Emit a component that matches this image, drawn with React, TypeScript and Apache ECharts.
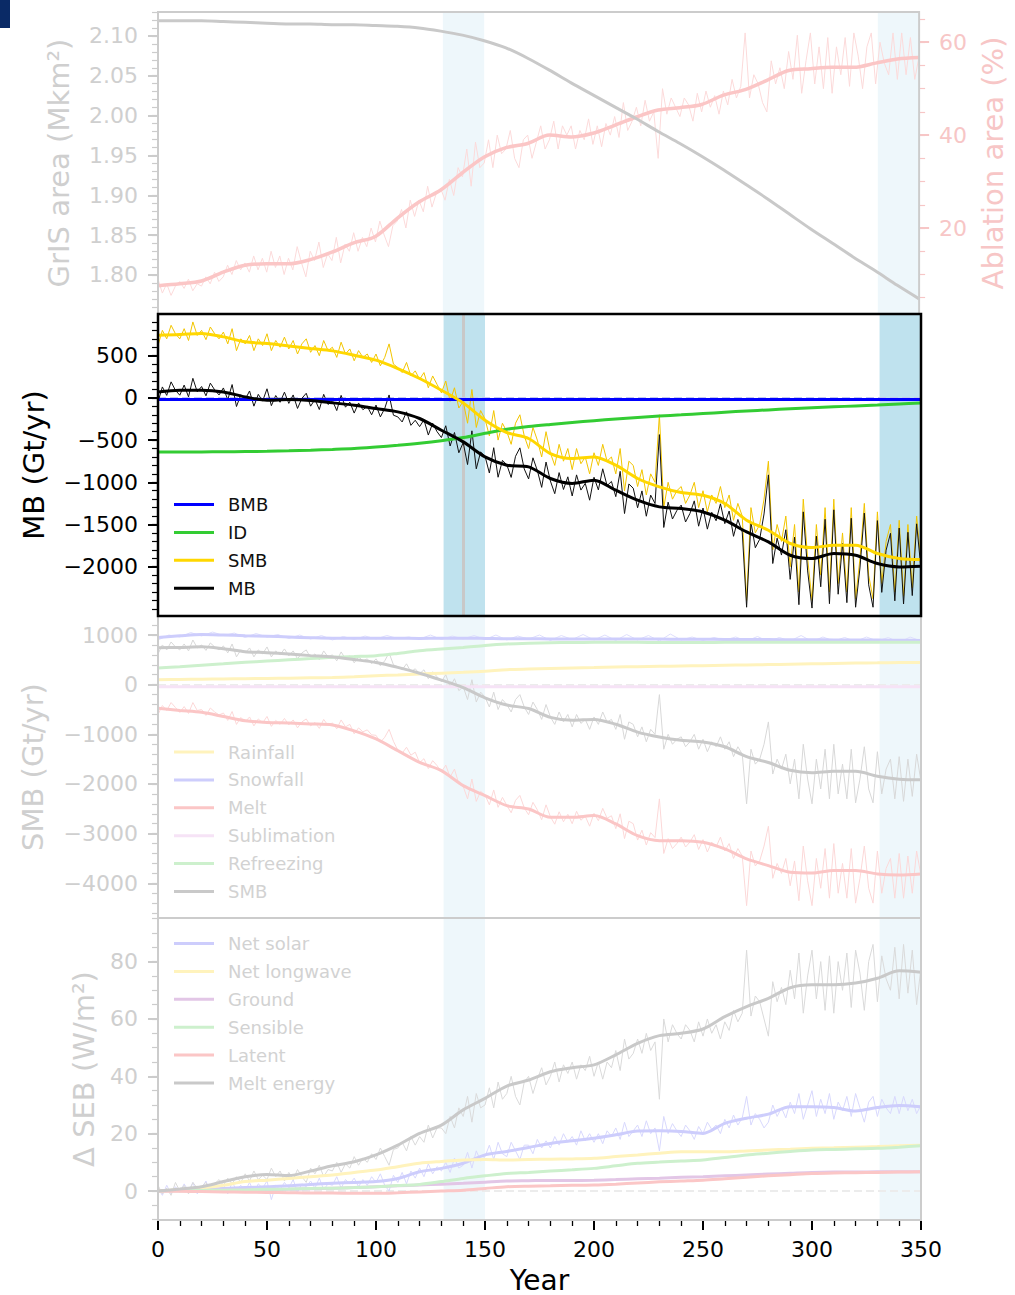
import React, { useEffect, useRef } from "react";
import * as echarts from "echarts";

const FONT = '"DejaVu Sans", sans-serif';
const SMOOTH_STEP = 10; // years between smooth-curve samples
const RAW_STEP = 5; // years between samples of the coarse annual curves
const FINE_STEP = 2; // years between samples of the fine annual curves

// ---------- Panel 1: GrIS area & ablation area ----------
const AREA = [2.119, 2.119, 2.119, 2.118, 2.117, 2.116, 2.115, 2.115, 2.114, 2.114, 2.113, 2.112, 2.110, 2.106, 2.101, 2.094, 2.085, 2.072, 2.057, 2.041, 2.026, 2.011, 1.996, 1.980, 1.965, 1.949, 1.932, 1.914, 1.896, 1.877, 1.858, 1.840, 1.822, 1.805, 1.787, 1.770];
const ABL = [7.6, 8.0, 8.6, 10.5, 12.0, 12.3, 12.3, 13.2, 14.8, 16.8, 18.2, 22.1, 25.6, 28.2, 31.9, 35.3, 37.3, 38.2, 40.0, 39.6, 40.4, 42.1, 43.9, 45.4, 45.9, 46.6, 48.6, 49.8, 51.8, 53.9, 54.3, 54.6, 54.6, 55.5, 56.4, 56.7];
const ABL_RAW = [
  9, 6, 8, 5.5, 7.5, 8.5, 7, 9, 6.5, 8, 7.5, 9.5, 8, 10.5, 8.5, 9.5, 12, 10, 13, 11,
  12.5, 10.5, 14, 11, 13.5, 10.5, 15, 11.5, 14, 10, 13.5, 11, 16, 12.5, 9.5, 15, 13, 17, 11.5, 14.5,
  13, 18, 12.5, 16.5, 15, 19, 15, 18, 16, 20, 17, 21.5, 18.5, 16, 20.5, 21.5, 24, 20, 26, 22.5,
  26, 23.5, 29, 24.5, 27.5, 28.5, 26, 30.5, 27, 33, 31, 37, 29, 38.5, 33, 34, 39, 33, 40, 36,
  37, 41, 35, 33, 39, 40, 35, 38.5, 42, 37, 39, 43, 37, 42, 40, 42, 37, 41, 39, 43.5,
  38, 42, 37.5, 42.5, 40, 44, 39.5, 47, 41, 43, 46, 42, 47.5, 43, 45, 35, 50, 44.5, 48, 46,
  44, 48, 46.5, 43, 49, 45, 49.5, 46, 48.5, 44.5, 49.5, 46.5, 52, 48, 50.5, 62, 48, 53, 51, 47,
  45, 56, 51, 54.5, 50, 58, 52, 61.5, 49, 56, 62, 51, 59, 50, 61, 49, 59, 53, 61, 50.5,
  62, 57, 50, 59, 62, 51, 60, 55.5, 53, 62, 52, 62, 53, 61, 52, 57,
];

// ---------- Panel 2: mass balance ----------
const BMB = [-20, -20, -20, -20, -20, -20, -20, -20, -20, -20, -20, -20, -20, -20, -20, -20, -20, -20, -20, -20, -20, -20, -20, -20, -20, -20, -20, -20, -20, -20, -20, -20, -20, -20, -20, -20];
const ID = [-640, -641, -640, -638, -635, -632, -627, -620, -611, -600, -582, -562, -538, -508, -470, -420, -372, -340, -315, -292, -270, -250, -232, -215, -200, -185, -170, -155, -142, -130, -118, -106, -95, -84, -72, -60];
const SMB = [743, 750, 763, 723, 664, 644, 616, 585, 557, 506, 447, 348, 230, 91, -59, -264, -410, -481, -659, -718, -699, -797, -955, -1054, -1121, -1153, -1251, -1449, -1568, -1725, -1773, -1745, -1745, -1844, -1903, -1915];
const MB = [71, 91, 91, 71, 12, -27, -20, -31, -59, -86, -126, -166, -244, -383, -521, -699, -797, -817, -955, -1014, -975, -1094, -1212, -1291, -1311, -1351, -1449, -1588, -1706, -1864, -1903, -1844, -1864, -1962, -2002, -1994];
const SMB_RAW = [
  620, 800, 700, 860, 760, 700, 820, 680, 900, 740, 800, 690, 840, 760, 700, 780, 640, 820, 560, 700,
  640, 740, 560, 700, 620, 760, 560, 680, 600, 720, 580, 680, 520, 640, 700, 540, 620, 500, 680, 560,
  600, 480, 660, 520, 580, 440, 560, 480, 520, 420, 520, 380, 480, 640, 400, 360, 300, 420, 260, 320,
  220, 300, 120, 260, 160, 60, 200, -40, 120, -120, -40, -300, 100, -350, -150, -250, -450, -150, -500, -300,
  -400, -550, -300, -200, -450, -600, -350, -500, -700, -400, -650, -800, -550, -750, -600, -850, -600, -780, -700, -900,
  -650, -800, -550, -750, -700, -900, -600, -1100, -750, -800, -1050, -850, -1150, -900, -1000, -200, -1300, -1000, -1200, -1100,
  -1050, -1250, -1150, -1000, -1300, -1100, -1350, -1150, -1250, -1050, -1300, -1150, -1450, -1250, -1400, -2400, -1300, -1600, -1500, -1200,
  -750, -1800, -1500, -1700, -1400, -2000, -1500, -2300, -1200, -1900, -2400, -1500, -2100, -1300, -2300, -1200, -2200, -1600, -2300, -1300,
  -2380, -1900, -1250, -2100, -2380, -1350, -2200, -1700, -1500, -2300, -1450, -2350, -1500, -2250, -1400, -1950,
];
const MB_RAW = [
  -50, 130, 30, 190, 90, 32, 152, 12, 232, 72, 135, 25, 175, 95, 35, 118, -22, 158, -102, 38,
  -18, 82, -98, 42, -38, 108, -92, 28, -52, 68, -65, 35, -125, -5, 55, -98, -18, -138, 42, -78,
  -30, -150, 30, -110, -50, -180, -60, -140, -100, -200, -85, -225, -125, 35, -205, -225, -285, -165, -325, -265,
  -340, -260, -440, -300, -400, -470, -330, -570, -410, -650, -530, -790, -390, -840, -640, -690, -890, -590, -940, -740,
  -792, -942, -692, -592, -842, -960, -710, -860, -1060, -760, -985, -1135, -885, -1085, -935, -1162, -912, -1092, -1012, -1212,
  -940, -1090, -840, -1040, -990, -1170, -870, -1370, -1020, -1070, -1302, -1102, -1402, -1152, -1252, -435, -1535, -1235, -1435, -1335,
  -1270, -1470, -1370, -1220, -1520, -1305, -1555, -1355, -1455, -1255, -1490, -1340, -1640, -1440, -1590, -2480, -1475, -1775, -1675, -1375,
  -912, -1962, -1662, -1862, -1562, -2150, -1650, -2450, -1350, -2050, -2490, -1638, -2238, -1438, -2438, -1326, -2326, -1726, -2426, -1426,
  -2480, -2015, -1365, -2215, -2480, -1454, -2304, -1804, -1604, -2404, -1542, -2442, -1592, -2342, -1492, -2030,
];

// ---------- Panel 3: SMB components ----------
const RAIN = [100, 105, 110, 115, 120, 125, 130, 137, 145, 160, 181, 195, 215, 232, 248, 270, 302, 315, 325, 335, 345, 355, 362, 370, 376, 382, 390, 398, 405, 412, 420, 427, 434, 440, 446, 449];
const SNOW = [952, 985, 1010, 1000, 986, 975, 960, 945, 935, 935, 937, 935, 932, 935, 937, 932, 925, 925, 922, 922, 920, 920, 918, 918, 915, 915, 912, 910, 908, 905, 905, 902, 900, 898, 895, 890];
const SNOW_RAW = [900, 1000, 960, 1050, 980, 1060, 990, 1040, 950, 1030, 960, 1010, 930, 1000, 920, 990, 900, 970, 910, 980, 920, 990, 930, 960, 920, 1000, 910, 980, 920, 990, 910, 1000, 900, 980, 920, 1000, 890, 990, 910, 1010, 900, 1000, 890, 1010, 900, 990, 880, 1020, 900, 960, 890, 950, 900, 960, 880, 970, 870, 950, 880, 990, 870, 960, 880, 950, 870, 960, 880, 950, 850, 960, 880];
const MELT = [-477, -520, -557, -640, -725, -760, -771, -790, -812, -930, -1093, -1329, -1564, -1731, -2033, -2234, -2436, -2503, -2671, -2671, -2637, -2805, -3040, -3141, -3141, -3174, -3308, -3509, -3644, -3778, -3792, -3744, -3744, -3811, -3831, -3811];
const MELT_RAW = [
  -600, -420, -520, -360, -460, -560, -440, -580, -360, -520, -500, -620, -470, -550, -610, -570, -720, -540, -800, -660,
  -750, -650, -830, -690, -770, -640, -840, -720, -800, -680, -810, -710, -870, -750, -690, -830, -760, -880, -700, -820,
  -770, -890, -710, -850, -800, -990, -870, -950, -910, -1010, -1020, -1160, -1060, -900, -1140, -1320, -1380, -1260, -1420, -1360,
  -1570, -1490, -1690, -1530, -1630, -1760, -1620, -1860, -1700, -2000, -2050, -2300, -1900, -2350, -2150, -2220, -2420, -2120, -2470, -2270,
  -2430, -2580, -2330, -2230, -2480, -2620, -2370, -2520, -2720, -2420, -2660, -2810, -2560, -2760, -2610, -2800, -2550, -2730, -2650, -2850,
  -2590, -2740, -2490, -2690, -2640, -2900, -2600, -3100, -2750, -2800, -3130, -2930, -3230, -2980, -3080, -2300, -3400, -3100, -3300, -3200,
  -3070, -3270, -3170, -3020, -3320, -3120, -3370, -3170, -3270, -3070, -3350, -3200, -3500, -3300, -3450, -4450, -3350, -3650, -3550, -3250,
  -2850, -3900, -3600, -3800, -3500, -4050, -3550, -4350, -3250, -3950, -4450, -3500, -4100, -3300, -4300, -3200, -4200, -3600, -4300, -3300,
  -4400, -3900, -3250, -4100, -4400, -3350, -4200, -3700, -3500, -4300, -3400, -4300, -3450, -4200, -3350, -3850,
];
const SUBL = [-40, -40, -40, -40, -40, -40, -40, -40, -40, -40, -40, -40, -40, -40, -40, -40, -40, -40, -40, -40, -40, -40, -40, -40, -40, -40, -40, -40, -40, -40, -40, -40, -40, -40, -40, -40];
const REFR = [336, 360, 390, 420, 450, 475, 500, 525, 550, 567, 584, 630, 684, 720, 751, 790, 819, 835, 845, 850, 852, 852, 852, 850, 850, 850, 852, 852, 855, 855, 855, 855, 855, 855, 855, 855];

// ---------- Panel 4: SEB anomalies ----------
const SOLAR = [0, 0.3, 0.6, 0.9, 1.2, 1.5, 1.8, 2.3, 2.7, 3.0, 3.3, 4.4, 6.7, 7.9, 9.7, 12.6, 13.8, 15.2, 16.6, 17.5, 18.4, 19.6, 20.9, 21.0, 20.8, 20.1, 23.6, 25.4, 26.8, 29.4, 29.4, 29.1, 27.9, 29.1, 29.8, 29.4];
const SOLAR_RAW = [
  1, -1.5, 2, -1, 1.5, -0.5, 2.5, 0, 3, -1, 1, 3.5, -0.5, 2, 0.5, 2.5, -1, 3, 0.5, 2,
  0, 3, -0.5, 2.5, 1, 3.5, -3, 2, 0.5, 3, 1, 4, -0.5, 2.5, 1.5, 3.5, 1, 4.5, 0.5, 2.5,
  2, 5, 1, 4, 2.5, 4.5, 1.5, 4, 2, 5, 3, 6, 2, 0, 5.5, 3, 6.5, 2.5, 7, 4.5,
  8, 5, 9.5, 6, 8.5, 7, 10, 6.5, 11.5, 8, 9, 13.5, 8, 14, 10.5, 12, 16, 11, 17, 13,
  12, 17, 14, 11, 16, 16, 13, 18, 15, 17.5, 15, 19, 16, 20, 17, 19, 16, 21, 17.5, 20,
  17, 20, 16.5, 21, 19, 22, 18, 24, 19, 21, 23, 19, 24.5, 20, 22, 14, 26, 20, 23.5, 21,
  19, 23, 21, 18, 22.5, 20, 24, 21.5, 23, 20, 25, 22, 26.5, 23, 25.5, 33, 23, 27, 25, 22,
  24, 30, 26, 29, 25.5, 31, 27, 34, 25, 30, 35, 26, 32, 27, 34, 25, 31, 28, 33, 26,
  34, 29, 24, 31, 33, 26, 32, 29, 27, 33, 27, 33, 28, 32, 27, 30,
];
const LW = [0, 0.5, 1.0, 2.0, 3.3, 3.8, 4.4, 5.0, 5.6, 6.5, 7.3, 8.5, 9.7, 10.3, 10.8, 11.0, 10.8, 11.0, 11.1, 11.2, 11.4, 12.0, 12.6, 13.2, 13.7, 13.7, 13.7, 14.0, 14.3, 14.6, 14.9, 15.1, 15.3, 15.5, 15.8, 16.0];
const GROUND = [0, 0.1, 0.2, 0.3, 0.4, 0.5, 0.6, 0.8, 1.0, 1.2, 1.5, 1.8, 2.1, 2.4, 2.7, 3.1, 3.5, 3.6, 3.7, 3.7, 3.8, 4.0, 4.3, 4.5, 4.8, 5.0, 5.3, 5.6, 5.9, 6.2, 6.5, 6.6, 6.6, 6.7, 6.7, 6.7];
const SENS = [0, 0.1, 0.2, 0.3, 0.4, 0.6, 0.7, 0.9, 1.0, 1.2, 1.5, 1.9, 2.3, 3.3, 4.4, 5.3, 6.1, 6.5, 7.0, 7.4, 7.9, 8.8, 9.7, 10.1, 10.5, 10.8, 11.7, 12.6, 13.2, 13.8, 14.3, 14.5, 14.7, 14.9, 15.3, 15.8];
const LATENT = [0, -0.1, -0.2, -0.3, -0.4, -0.5, -0.6, -0.7, -0.7, -0.8, -0.8, -0.6, -0.3, 0, 0.3, 0.9, 1.5, 1.7, 1.8, 2.0, 2.1, 2.4, 2.8, 3.2, 3.5, 3.8, 4.3, 4.8, 5.3, 5.7, 6.1, 6.3, 6.4, 6.5, 6.6, 6.7];
const MELTE = [0, 0.7, 1.5, 3.3, 5.0, 5.8, 5.4, 7.0, 8.8, 10.2, 12.6, 16.0, 20.1, 23.0, 28.3, 32.3, 36.6, 38.7, 41.6, 43.0, 44.0, 47.5, 51.5, 54.2, 55.0, 56.5, 60.8, 64.3, 67.2, 70.9, 71.9, 71.9, 72.5, 74.2, 76.8, 76.3];
const MELTE_RAW = [
  2, -1, 1, -1.5, 3, 0, 2, -1, 3, 1, 1.5, 3, 0, 2.5, 4, 2, 4.5, 2.5, 5, 3,
  6, 3.5, 7, 4, 5.5, 4, 8, 5, 7, 3.5, 6.5, 4, 7.5, 5, 3, 8, 6, 9, 5, 7.5,
  7, 10, 6.5, 9.5, 8, 12, 9, 11.5, 10, 13, 11, 15, 12, 9, 14.5, 15, 17, 14, 19, 16,
  19, 17, 23, 18.5, 22, 22, 20, 26, 22, 29, 26, 33, 24, 34, 29, 30, 36, 29, 38, 32,
  34, 40, 33, 30, 38, 40, 34, 39, 43, 37, 40, 45, 38, 44, 41, 45, 39, 44, 42, 47,
  40, 45, 39, 45, 43, 49, 42, 53, 46, 48, 53, 48, 55, 49, 52, 32, 60, 52, 58, 55,
  53, 58, 56, 52, 59, 54, 60, 55, 58, 53, 59, 56, 63, 59, 62, 84, 61, 68, 66, 60,
  54, 73, 66, 71, 65, 77, 67, 83, 62, 75, 84, 67, 80, 63, 82, 62, 80, 70, 83, 64,
  84, 76, 63, 80, 86, 66, 82, 74, 70, 85, 67, 86, 69, 84, 65, 78,
];

// ---------- ticks / labels ----------
const X_TICKS_STEP = 50;
const P1_TICKS = [1.8, 1.85, 1.9, 1.95, 2.0, 2.05, 2.1];
const P1R_TICKS = [20, 40, 60];
const P2_TICKS = [-2000, -1500, -1000, -500, 0, 500];
const P3_TICKS = [-4000, -3000, -2000, -1000, 0, 1000];
const P4_TICKS = [0, 20, 40, 60, 80];
const BANDS = [[131, 150], [331, 350]];

const LEG2 = ["BMB", "ID", "SMB", "MB"];
const LEG3 = ["Rainfall", "Snowfall", "Melt", "Sublimation", "Refreezing", "SMB"];
const LEG4 = ["Net solar", "Net longwave", "Ground", "Sensible", "Latent", "Melt energy"];

const C = {
  gray: "#c9c9c9", grayThin: "#dadada",
  pink: "#fbc6c6", pinkThin: "#fcdada",
  blue: "#0000ff", green: "#33cc33", gold: "#ffd700", black: "#000000",
  fRain: "#fff3bd", fSnow: "#cdcdfc", fSnowThin: "#dedefd", fMelt: "#fbc6c6", fMeltThin: "#fcd8d8",
  fSubl: "#f6e3f6", fRefr: "#cdf0cd", fSmb: "#c9c9c9", fSmbThin: "#d8d8d8",
  fGround: "#e2c6e6",
  axisGray: "#cccccc", textGray: "#cfcfcf", axisPink: "#f7c6c6",
};
const LEG2_COLORS = [C.blue, C.green, C.gold, C.black];
const LEG3_COLORS = [C.fRain, C.fSnow, C.fMelt, C.fSubl, C.fRefr, C.fSmb];
const LEG4_COLORS = [C.fSnow, C.fRain, C.fGround, C.fRefr, C.fMelt, C.fSmb];

const pairs = (arr: number[], step: number) => arr.map((v, i) => [i * step, v]);
const minus = (v: number) => (v < 0 ? "\u2212" + Math.abs(v) : String(v));
const range = (a: number, b: number, s: number) => {
  const out: number[] = [];
  const n = Math.round((b - a) / s);
  for (let k = 0; k <= n; k++) out.push(+(a + k * s).toFixed(4));
  return out;
};

const GRID_TOPS = [12, 314, 616, 918];
const GRID_H = 302;

function yPair(gi: number, min: number, max: number, majors: number[], minors: number[], tickColor: string, labelColor: string, fmt: (v: number) => string, name: string, nameGap: number, position: "left" | "right") {
  return [
    {
      gridIndex: gi, type: "value", min, max, position,
      axisLine: { show: false }, splitLine: { show: false },
      axisTick: { show: true, length: 10, lineStyle: { color: tickColor, width: 2 }, customValues: majors },
      axisLabel: { show: true, customValues: majors, formatter: fmt, fontSize: 22, color: labelColor, margin: 20, fontFamily: FONT },
      name, nameLocation: "middle", nameGap,
      nameTextStyle: { fontSize: 29, color: labelColor, fontFamily: FONT },
    },
    {
      gridIndex: gi, type: "value", min, max, position,
      axisLine: { show: false }, splitLine: { show: false },
      axisTick: { show: true, length: 6, lineStyle: { color: tickColor, width: 1.2 }, customValues: minors },
      axisLabel: { show: false },
    },
  ];
}

function line(name: string, data: number[][], xi: number, yi: number, color: string, width: number, z: number, smooth = false) {
  return {
    name, type: "line", data, xAxisIndex: xi, yAxisIndex: yi, showSymbol: false, symbol: "none",
    lineStyle: { color, width }, itemStyle: { color }, z, silent: true, smooth: smooth ? 0.3 : false,
  };
}

function bandSeries(xi: number, yi: number, color: string, extraLines: any[]) {
  return {
    type: "line", data: [], xAxisIndex: xi, yAxisIndex: yi, z: 1, silent: true,
    markArea: {
      silent: true, z: 1, itemStyle: { color },
      data: BANDS.map(([a, b]) => [{ xAxis: a }, { xAxis: b }]),
    },
    markLine: extraLines.length
      ? { silent: true, z: 1, symbol: ["none", "none"], label: { show: false }, data: extraLines }
      : undefined,
  };
}

function legendGraphic(names: string[], colors: string[], y0: number, textColor: string) {
  const els: any[] = [];
  names.forEach((n, i) => {
    const y = y0 + i * 27.9;
    els.push({ type: "line", shape: { x1: 174, y1: y, x2: 214, y2: y }, style: { stroke: colors[i], lineWidth: 3 }, silent: true });
    els.push({ type: "text", x: 228, y, style: { text: n, fill: textColor, fontSize: 18, fontFamily: FONT, verticalAlign: "middle" }, silent: true });
  });
  return els;
}

export default function App() {
  const ref = useRef<HTMLDivElement>(null);
  useEffect(() => {
    if (!ref.current) return;
    const chart = echarts.init(ref.current, undefined, { renderer: "svg" });

    const grids = GRID_TOPS.map((top, i) => ({
      left: 158, width: 763, top, height: GRID_H, show: true,
      borderColor: i === 1 ? "#000" : C.axisGray, borderWidth: i === 1 ? 2.5 : 2,
      backgroundColor: "transparent", z: i === 1 ? 8 : 7,
    }));

    const xAxes = GRID_TOPS.map((_, gi) => ({
      gridIndex: gi, type: "value", min: 0, max: 350, interval: X_TICKS_STEP,
      axisLine: { show: false, onZero: false },
      axisTick: { show: gi === 3, length: 10, lineStyle: { color: "#000", width: 2 } },
      minorTick: { show: gi === 3, splitNumber: 5, length: 6, lineStyle: { color: "#000", width: 1.3 } },
      axisLabel: { show: gi === 3, fontSize: 22, color: "#000", margin: 18, fontFamily: FONT },
      splitLine: { show: false }, minorSplitLine: { show: false },
      name: gi === 3 ? "Year" : "", nameLocation: "middle", nameGap: 46,
      nameTextStyle: { fontSize: 28, color: "#000", fontFamily: FONT },
    }));

    const yAxes = [
      ...yPair(0, 1.751, 2.130, P1_TICKS, range(1.76, 2.13, 0.01), C.axisGray, C.textGray, (v) => v.toFixed(2), "GrIS area (Mkm\u00b2)", 85, "left"),
      ...yPair(0, 1.5, 66.5, P1R_TICKS, range(5, 65, 5), C.axisPink, C.axisPink, (v) => String(v), "Ablation area (%)", 53, "right"),
      ...yPair(1, -2584, 994, P2_TICKS, range(-2500, 900, 100), "#000", "#000", minus, "MB (Gt/yr)", 110, "left"),
      ...yPair(2, -4699, 1383, P3_TICKS, range(-4600, 1200, 200), C.axisGray, C.textGray, minus, "SMB (Gt/yr)", 111, "left"),
      ...yPair(3, -10.1, 95.2, P4_TICKS, range(-10, 95, 5), C.axisGray, C.textGray, minus, "\u0394 SEB (W/m\u00b2)", 60, "left"),
    ];

    const S = SMOOTH_STEP, R = RAW_STEP, F = FINE_STEP;
    const series: any[] = [
      // Panel 1
      bandSeries(0, 0, "#eef7fb", []),
      line("Ablation raw", pairs(ABL_RAW, F), 0, 2, C.pinkThin, 1, 2),
      line("Ablation area", pairs(ABL, S), 0, 2, C.pink, 3.5, 3, true),
      line("GrIS area", pairs(AREA, S), 0, 0, C.gray, 3, 3, true),
      // Panel 2
      bandSeries(1, 4, "#bfe2ee", [
        { xAxis: 140, lineStyle: { color: "#c8c8c8", width: 3, type: "solid" } },
        { yAxis: 0, lineStyle: { color: "#c3c9ef", width: 2, type: "dashed" } },
      ]),
      line("SMB raw", pairs(SMB_RAW, F), 1, 4, "#f2c500", 1, 2),
      line("MB raw", pairs(MB_RAW, F), 1, 4, "#111111", 1, 2),
      line("BMB", pairs(BMB, S), 1, 4, C.blue, 3, 3),
      line("ID", pairs(ID, S), 1, 4, C.green, 3, 3, true),
      line("SMB", pairs(SMB, S), 1, 4, C.gold, 3, 4, true),
      line("MB", pairs(MB, S), 1, 4, C.black, 3, 5, true),
      // Panel 3
      bandSeries(2, 6, "#eef7fb", [
        { yAxis: 0, lineStyle: { color: "#ececec", width: 2, type: "dashed" } },
      ]),
      line("Snow raw", pairs(SNOW_RAW, R), 2, 6, C.fSnowThin, 1, 2),
      line("Melt raw", pairs(MELT_RAW, F), 2, 6, C.fMeltThin, 1, 2),
      line("SMB3 raw", pairs(SMB_RAW, F), 2, 6, C.fSmbThin, 1, 2),
      line("Rainfall", pairs(RAIN, S), 2, 6, C.fRain, 3, 3, true),
      line("Snowfall", pairs(SNOW, S), 2, 6, C.fSnow, 3, 3, true),
      line("Melt", pairs(MELT, S), 2, 6, C.fMelt, 3, 3, true),
      line("Sublimation", pairs(SUBL, S), 2, 6, C.fSubl, 3, 3),
      line("Refreezing", pairs(REFR, S), 2, 6, C.fRefr, 3, 3, true),
      line("SMB3", pairs(SMB, S), 2, 6, C.fSmb, 3, 3, true),
      // Panel 4
      bandSeries(3, 8, "#eef7fb", [
        { yAxis: 0, lineStyle: { color: "#ececec", width: 2, type: "dashed" } },
      ]),
      line("Solar raw", pairs(SOLAR_RAW, F), 3, 8, "#d8d8fd", 1, 2),
      line("MeltE raw", pairs(MELTE_RAW, F), 3, 8, C.grayThin, 1, 2),
      line("Net solar", pairs(SOLAR, S), 3, 8, C.fSnow, 3, 3, true),
      line("Net longwave", pairs(LW, S), 3, 8, C.fRain, 3, 3, true),
      line("Ground", pairs(GROUND, S), 3, 8, C.fGround, 3, 3, true),
      line("Sensible", pairs(SENS, S), 3, 8, C.fRefr, 3, 3, true),
      line("Latent", pairs(LATENT, S), 3, 8, C.fMelt, 3, 3, true),
      line("Melt energy", pairs(MELTE, S), 3, 8, C.fSmb, 3, 3, true),
    ];

    const graphic = [
      { type: "rect", x: 0, y: 0, shape: { width: 10, height: 28 }, style: { fill: "#0a2a66" }, silent: true },
      ...legendGraphic(LEG2, LEG2_COLORS, 504.5, "#111"),
      ...legendGraphic(LEG3, LEG3_COLORS, 752, "#d2d2d2"),
      ...legendGraphic(LEG4, LEG4_COLORS, 943.5, "#d2d2d2"),
    ];

    chart.setOption({
      animation: false,
      backgroundColor: "#ffffff",
      textStyle: { fontFamily: FONT },
      grid: grids,
      xAxis: xAxes,
      yAxis: yAxes,
      series,
      graphic,
    });
    return () => chart.dispose();
  }, []);

  return <div ref={ref} style={{ position: "absolute", left: 0, top: 0, width: 1015, height: 1295 }} />;
}
